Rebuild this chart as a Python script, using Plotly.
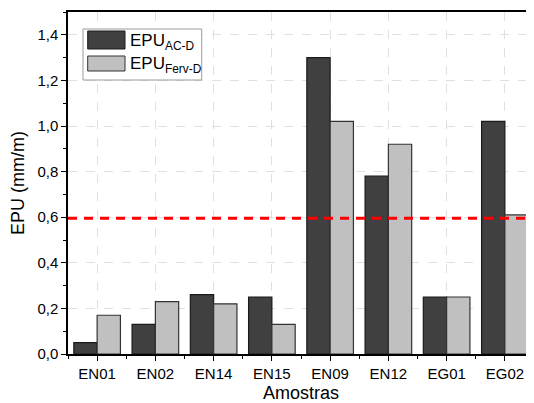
import plotly.graph_objects as go

categories = ["EN01", "EN02", "EN14", "EN15", "EN09", "EN12", "EG01", "EG02"]
epu_ac_d = [0.05, 0.13, 0.26, 0.25, 1.30, 0.78, 0.25, 1.02]
epu_ferv_d = [0.17, 0.23, 0.22, 0.13, 1.02, 0.92, 0.25, 0.61]
limit_value = 0.595
y_ticks = [0.0, 0.2, 0.4, 0.6, 0.8, 1.0, 1.2, 1.4]

FONT = "Liberation Sans, Arial, sans-serif"
OFF = 8  # page body margin
W, H = 534 - OFF, 403 - OFF
ML, MT, MB, MR = 68 - OFF, 12 - OFF, 49, 0
PW, PH = W - ML - MR, H - MT - MB

# helpers converting reference-pixel positions to paper coordinates
def px_x(p):
    return (p - OFF - ML) / PW

def px_y(p):
    return (H - MB - (p - OFF)) / PH

fig = go.Figure()
fig.add_trace(go.Bar(x=categories, y=epu_ac_d, name="EPU<sub>AC-D</sub>",
                     marker=dict(color="#404040", line=dict(color="#1a1a1a", width=1.2))))
fig.add_trace(go.Bar(x=categories, y=epu_ferv_d, name="EPU<sub>Ferv-D</sub>",
                     marker=dict(color="#c0c0c0", line=dict(color="#333333", width=1.2))))

fig.add_shape(type="line", xref="x domain", yref="y", x0=0, x1=1,
              y0=limit_value, y1=limit_value,
              line=dict(color="#ff0000", width=3, dash="9px,7px"))

# legend box
fig.add_shape(type="rect", xref="paper", yref="paper",
              x0=px_x(83), x1=px_x(201.7), y0=px_y(80), y1=px_y(29),
              line=dict(color="#9a9a9a", width=1), fillcolor="white")
fig.add_shape(type="rect", xref="paper", yref="paper",
              x0=px_x(87.7), x1=px_x(125), y0=px_y(49), y1=px_y(31),
              line=dict(color="#1a1a1a", width=1), fillcolor="#404040")
fig.add_shape(type="rect", xref="paper", yref="paper",
              x0=px_x(87.7), x1=px_x(125), y0=px_y(71), y1=px_y(56),
              line=dict(color="#333333", width=1), fillcolor="#c0c0c0")
fig.add_annotation(xref="paper", yref="paper", x=px_x(128), y=px_y(42),
                   text="EPU<sub>AC-D</sub>", showarrow=False, xanchor="left",
                   yanchor="middle", font=dict(family=FONT, size=17, color="black"))
fig.add_annotation(xref="paper", yref="paper", x=px_x(128), y=px_y(65),
                   text="EPU<sub>Ferv-D</sub>", showarrow=False, xanchor="left",
                   yanchor="middle", font=dict(family=FONT, size=17, color="black"))

fig.update_layout(
    width=W, height=H,
    margin=dict(l=ML, r=MR, t=MT, b=MB),
    paper_bgcolor="white", plot_bgcolor="white",
    barmode="group", bargap=0.2, bargroupgap=0,
    showlegend=False,
    separators=",.",
    font=dict(family=FONT, size=15, color="black"),
)
fig.update_xaxes(
    type="category", range=[-0.5, 7.5],
    showline=True, linecolor="black", linewidth=1.5, mirror=True,
    ticks="outside", ticklen=5, tickwidth=1, tickcolor="black",
    showgrid=True, gridcolor="#e0e0e0", griddash="dash", gridwidth=1,
    minor=dict(ticks="outside", ticklen=3, tickvals=[i + 0.5 for i in range(-1, 8)],
               tickcolor="black", showgrid=False),
    tickfont=dict(family=FONT, size=15),
    title=dict(text="Amostras", font=dict(family=FONT, size=18), standoff=6),
)
fig.update_yaxes(
    range=[0, 1.5], tickvals=y_ticks, tickformat=".1f",
    showline=True, linecolor="black", linewidth=1.5, zeroline=False,
    ticks="outside", ticklen=5, tickwidth=1, tickcolor="black",
    showgrid=True, gridcolor="#e0e0e0", griddash="dash", gridwidth=1,
    minor=dict(ticks="outside", ticklen=3, dtick=0.1, tickcolor="black", showgrid=False),
    tickfont=dict(family=FONT, size=15),
    title=dict(text="EPU (mm/m)", font=dict(family=FONT, size=18), standoff=10),
)

fig.write_html("out.html")
